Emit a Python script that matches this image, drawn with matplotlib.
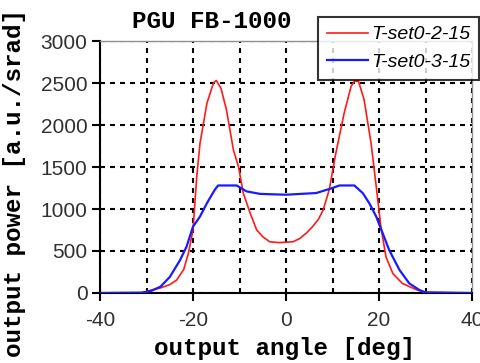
import matplotlib
matplotlib.use("Agg")
import matplotlib.pyplot as plt
from matplotlib.ticker import MultipleLocator

plt.rcParams["axes.unicode_minus"] = False

# Data
red_x = [-40, -31, -29, -27, -25, -23.5, -22, -21, -20, -19.2, -18.5, -17, -15.6, -15, -14,
         -12.8, -11.3, -10.2, -9.2, -7.7, -6.3, -5, -3.5, -1.5, 0, 1.5, 3, 4.5, 5.7, 7, 8,
         9.3, 10.7, 12.5, 14, 14.7, 15.6, 16.8, 18.3, 19.4, 20.4, 21.5, 23, 25, 28, 30, 40]
red_y = [0, 0, 35, 60, 100, 155, 280, 470, 750, 1380, 1780, 2260, 2500, 2530, 2440,
         2180, 1700, 1500, 1190, 950, 750, 670, 610, 600, 605, 610, 650, 720, 790, 880, 990,
         1230, 1660, 2140, 2460, 2520, 2520, 2300, 1780, 1270, 790, 430, 230, 115, 40, 5, 0]

blue_x = [-40, -31, -29, -27, -25, -22.8, -21.4, -20, -18.5, -17, -15.3, -14.6, -10.6, -8.5,
          -5.6, 0, 6.5, 10, 11.5, 14.7, 16.5, 17.9, 19.4, 20.8, 22.2, 24.4, 26.5, 28.7, 30, 40]
blue_y = [0, 5, 25, 75, 190, 390, 550, 790, 910, 1070, 1230, 1280, 1280, 1210,
          1180, 1170, 1190, 1250, 1280, 1280, 1190, 1070, 910, 710, 510, 275, 115, 35, 8, 0]

labels = ["T-set0-2-15", "T-set0-3-15"]
title = "PGU FB-1000"
xlabel = "output angle [deg]"
ylabel = "output power [a.u./srad]"

W, H = 481, 363
fig = plt.figure(figsize=(W / 100, H / 100), dpi=100)
fig.patch.set_facecolor("white")

L, R, T, B = 100, 472, 41, 293
ax = fig.add_axes([L / W, 1 - B / H, (R - L) / W, (B - T) / H])

ax.plot(red_x, red_y, color="#ff1a1a", lw=1.2, label=labels[0], zorder=3)
ax.plot(blue_x, blue_y, color="#1a1aff", lw=1.6, label=labels[1], zorder=3)

ax.set_xlim(-40, 40)
ax.set_ylim(0, 3000)
ax.xaxis.set_major_locator(MultipleLocator(20))
ax.xaxis.set_minor_locator(MultipleLocator(10))
ax.yaxis.set_major_locator(MultipleLocator(500))

dash = (0, (2.4, 2.4))
ax.grid(True, which="both", axis="x", color="black", ls=dash, lw=1.5)
ax.grid(True, which="major", axis="y", color="black", ls=dash, lw=1.5)
ax.tick_params(axis="x", which="minor", length=0)

for s in ["left", "bottom"]:
    ax.spines[s].set_color("black")
    ax.spines[s].set_linewidth(1.5)
for s in ["top", "right"]:
    ax.spines[s].set_color("#909090")
    ax.spines[s].set_linewidth(1.0)

ax.tick_params(axis="both", which="major", direction="out", length=6, width=1.5,
               colors="black", labelsize=15)
ax.tick_params(axis="x", pad=7)
ax.tick_params(axis="y", pad=3)
for lab in ax.get_xticklabels() + ax.get_yticklabels():
    lab.set_fontfamily("Liberation Sans")
    lab.set_color("#303030")

mono = dict(family="Liberation Mono", weight="bold", size=17.5, color="black")
fig.text(212 / W, 1 - 22 / H, title, ha="center", va="center", **mono)
fig.text(285 / W, 1 - 348 / H, xlabel, ha="center", va="center", **mono)
fig.text(15 / W, 1 - 183 / H, ylabel, ha="center", va="center", rotation=90, **mono)

leg = fig.legend(loc="upper left", bbox_to_anchor=(318 / W, 1 - 17 / H),
                 bbox_transform=fig.transFigure,
                 prop=dict(family="Liberation Sans", style="italic", size=14),
                 frameon=True, fancybox=False, handlelength=2.1, handletextpad=0.2,
                 borderpad=0.45, labelspacing=0.52, borderaxespad=0)
leg.get_frame().set_edgecolor("black")
leg.get_frame().set_linewidth(1.5)
leg.set_zorder(10)

fig.savefig("out.png", dpi=100)
